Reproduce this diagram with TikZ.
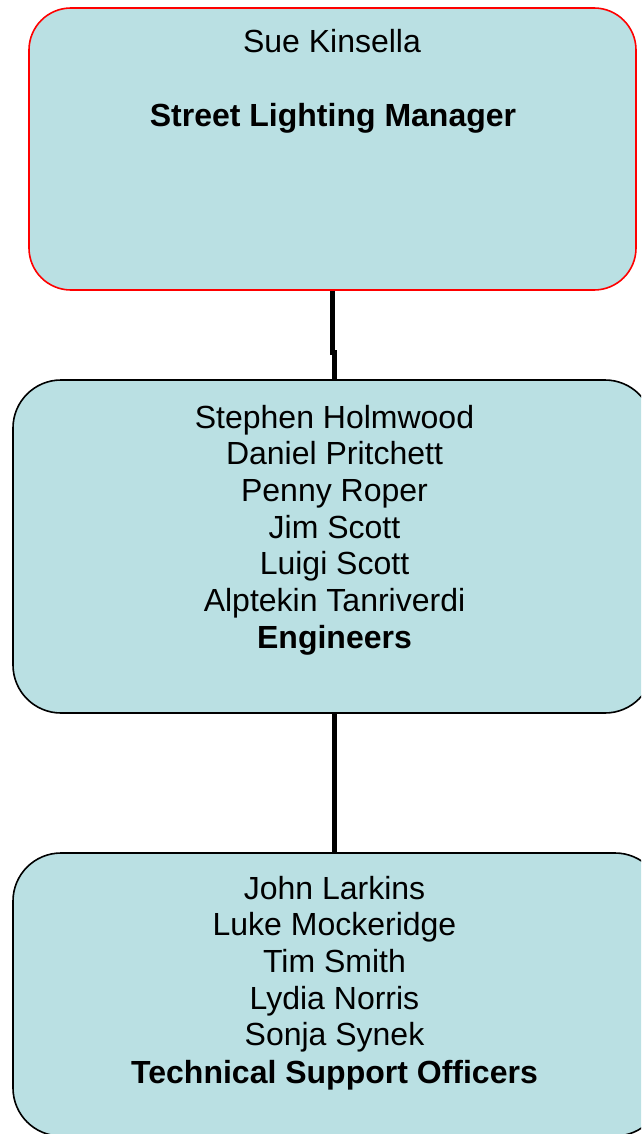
\documentclass[tikz,border=0pt]{standalone}
\usepackage{fontspec}
\setmainfont{Liberation Sans}
\definecolor{boxfill}{RGB}{186,224,227}
\definecolor{boxred}{RGB}{255,0,0}
\tikzset{
  orgbox/.style={draw=black, line width=1.6pt, fill=boxfill, rounded corners=48pt,
    inner sep=0pt, rectangle},
  topbox/.style={orgbox, draw=boxred, rounded corners=42pt},
  conn/.style={draw=black, line width=5pt},
  txt/.style={anchor=base, inner sep=0pt, font=\fontsize{32}{37}\selectfont},
  btxt/.style={txt, font=\fontsize{32}{37}\selectfont\bfseries}
}
\begin{document}
\begin{tikzpicture}[x=1pt, y=-1pt]
\useasboundingbox (0,0) rectangle (641,1134);
\clip (0,0) rectangle (641,1134);
\fill[white] (0,0) rectangle (641,1134);

% the three boxes
\node[topbox, minimum width=607pt, minimum height=282pt] (b1) at (332.5,149) {};
\node[orgbox, minimum width=640pt, minimum height=333pt] (b2) at (333,546.5) {};
\node[orgbox, minimum width=650pt, minimum height=283pt] (b3) at (338,994.5) {};

% connectors
\draw[conn] ([xshift=-0.5pt]b1.south) -- ++(0,62) -| ([xshift=1pt]b2.north);
\draw[conn] ([xshift=1pt]b2.south) -- ([xshift=1pt]b2.south |- b3.north);

% manager
\node[txt] (t1a) at (332,53) {Sue Kinsella};
\node[btxt] (t1b) at (333,126.5) {Street Lighting Manager};

% engineers
\foreach \name [count=\i from 0] in {Stephen Holmwood, Daniel Pritchett, Penny Roper,
    Jim Scott, Luigi Scott, Alptekin Tanriverdi}
  \node[txt] (e\i) at (334.5,428+36.7*\i) {\name};
\node[btxt] (e6) at (334.5,648.5) {Engineers};

% technical support
\foreach \name [count=\i from 0] in {John Larkins, Luke Mockeridge, Tim Smith,
    Lydia Norris, Sonja Synek}
  \node[txt] (s\i) at (334.5,899+36.7*\i) {\name};
\node[btxt] (s5) at (334.5,1083) {Technical Support Officers};
\end{tikzpicture}
\end{document}
